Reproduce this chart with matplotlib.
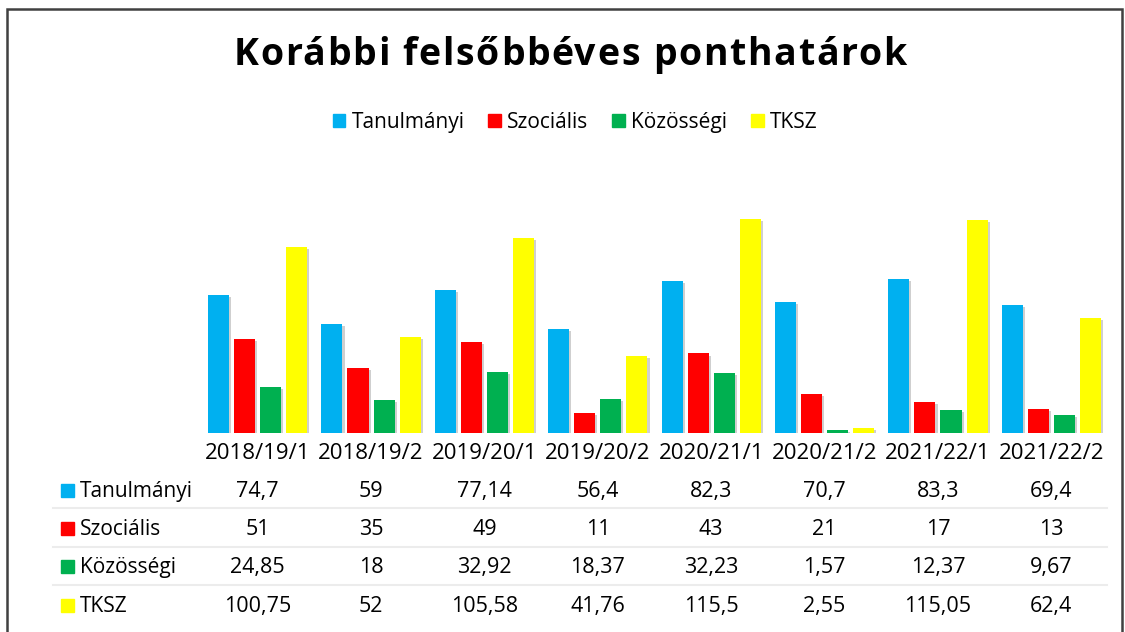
import matplotlib
matplotlib.use("Agg")
import matplotlib.pyplot as plt
import matplotlib.patches as mpatches
import matplotlib.patheffects as pe
import numpy as np

# Data
categories = ["2018/19/1", "2018/19/2", "2019/20/1", "2019/20/2",
              "2020/21/1", "2020/21/2", "2021/22/1", "2021/22/2"]
series_names = ["Tanulmányi", "Szociális", "Közösségi", "TKSZ"]
tanulmanyi = [74.7, 59, 77.14, 56.4, 82.3, 70.7, 83.3, 69.4]
szocialis = [51, 35, 49, 11, 43, 21, 17, 13]
kozossegi = [24.85, 18, 32.92, 18.37, 32.23, 1.57, 12.37, 9.67]
tksz = [100.75, 52, 105.58, 41.76, 115.5, 2.55, 115.05, 62.4]
colors = ["#00B0F0", "#FF0000", "#00B050", "#FFFF00"]
title = "Korábbi felsőbbéves ponthatárok"

values = [tanulmanyi, szocialis, kozossegi, tksz]

plt.rcParams['font.family'] = ['Open Sans', 'DejaVu Sans']

W, H = 1125, 632
fig = plt.figure(figsize=(W / 100, H / 100), dpi=100)
renderer = fig.canvas.get_renderer()


def fy(py):
    return 1 - py / H


def fx(px):
    return px / W


# chart border
fig.patches.append(mpatches.Rectangle((fx(7), fy(660)), fx(1115), (660 - 9) / H,
                                      transform=fig.transFigure, fill=False,
                                      edgecolor="#404040", linewidth=1.8))

# bars
ax = fig.add_axes([fx(201), fy(433), fx(907), (433 - 174) / H])
x = np.arange(len(categories))
offsets = [-0.345, -0.115, 0.115, 0.345]
shadow = [pe.SimplePatchShadow(offset=(1.5, -1.5), shadow_rgbFace="#b0b0b0", alpha=0.6), pe.Normal()]
for vals, off, col, name in zip(values, offsets, colors, series_names):
    ax.bar(x + off, vals, width=0.186, color=col, label=name, path_effects=shadow)
ax.set_xlim(-0.5, len(categories) - 0.5)
ax.set_ylim(0, 140)
ax.axis("off")


# title with letter spacing (drawn char by char)
def text_width(s, **kw):
    t = fig.text(0, 0, s, **kw)
    w = t.get_window_extent(renderer).width
    t.remove()
    return w


tkw = dict(fontsize=27, fontweight="bold")
spacing = 1.7
total = text_width(title, **tkw) + spacing * (len(title) - 1)
x0 = 570 - total / 2
for k, ch in enumerate(title):
    if ch == " ":
        continue
    left = text_width(title[:k + 1], **tkw) - text_width(ch, **tkw) + k * spacing
    fig.text(fx(x0 + left), fy(55), ch, ha="left", va="center", **tkw)

# legend
handles = [mpatches.Patch(color=c, label=n) for c, n in zip(colors, series_names)]
fig.legend(handles=handles, loc="center", bbox_to_anchor=(fx(575), fy(122)), ncol=4,
           frameon=False, fontsize=15, handlelength=0.6, handleheight=0.6,
           handletextpad=0.3, columnspacing=1.15)

# data table
tr = matplotlib.transforms.blended_transform_factory(ax.transData, fig.transFigure)
for i, c in enumerate(categories):
    ax.text(i, fy(459), c, transform=tr, ha="center", va="baseline", fontsize=16)

row_base = [497, 535, 573, 612]
for r, (name, vals, col) in enumerate(zip(series_names, values, colors)):
    y = fy(row_base[r])
    fig.patches.append(mpatches.Rectangle((fx(61), y + 0.5 / H), fx(13), 13 / H,
                                          transform=fig.transFigure, color=col))
    fig.text(fx(80), y, name, ha="left", va="baseline", fontsize=15)
    for i, v in enumerate(vals):
        s = f"{v:g}".replace(".", ",")
        ax.text(i, y, s, transform=tr, ha="center", va="baseline", fontsize=15.5)

for ly in [508, 547, 585]:
    fig.add_artist(plt.Line2D([fx(53), fx(1107)], [fy(ly), fy(ly)],
                              transform=fig.transFigure, color="#ececec", linewidth=1.5))

fig.savefig("out.png", dpi=100)
